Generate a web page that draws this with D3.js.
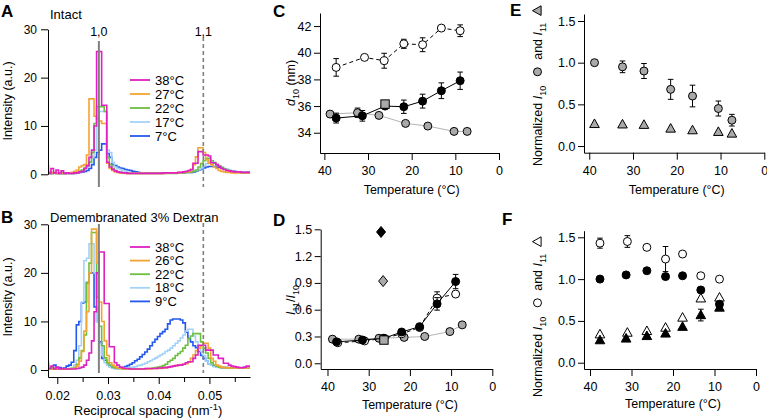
<!DOCTYPE html>
<html><head><meta charset="utf-8">
<script src="https://cdn.jsdelivr.net/npm/d3@7/dist/d3.min.js"></script>
<style>html,body{margin:0;padding:0;background:#fff;}svg{display:block;}</style>
</head><body>
<svg id="fig" width="767" height="420"></svg>
<script>
// ---------------- DATA ----------------
// Reciprocal spacing grid (nm^-1)
const qGrid = [0.018,0.0185,0.019,0.0195,0.02,0.0205,0.021,0.0215,0.022,0.0225,0.023,0.0235,0.024,0.0245,0.025,0.0255,0.026,0.0265,0.027,0.0275,0.028,0.0285,0.029,0.0295,0.03,0.0305,0.031,0.0315,0.032,0.0325,0.033,0.0335,0.034,0.0345,0.035,0.0355,0.036,0.0365,0.037,0.0375,0.038,0.0385,0.039,0.0395,0.04,0.0405,0.041,0.0415,0.042,0.0425,0.043,0.0435,0.044,0.0445,0.045,0.0455,0.046,0.0465,0.047,0.0475,0.048,0.0485,0.049,0.0495,0.05,0.0505,0.051,0.0515,0.052,0.0525,0.053,0.0535,0.054,0.0545,0.055,0.0555,0.056,0.0565,0.057,0.0575,0.058];
const reflections = [0.0282, 0.0488]; // 1,0 and 1,1
const reflectionLabels = ["1,0", "1,1"];

// Panel A (Intact) intensities
const labelsA = ["38°C","27°C","22°C","17°C","7°C"];
const intactA38 = [1.8,0.2,1.2,0.3,0.9,0.2,0.7,0.2,0.3,0.2, 0.2,0.3,0.3,0.5,0.6,1.2,1.8,3.5,5.0,10.0, 25.4,25.4,14.3,14.3,2.5,1.5,1.0,0.7,0.5,0.4, 0.3,0.3,0.2,0.2,0.2,0.2,0.2,0.2,0.2,0.2, 0.2,0.2,0.2,0.2,0.2,0.2,0.3,0.3,0.3,0.3, 0.3,0.3,0.4,0.4,0.5,0.6,0.8,1.0,2.3,2.3, 4.7,4.7,4.0,4.0,3.8,2.4,2.4,2.0,1.6,1.2, 1.0,0.8,0.7,0.6,0.5,0.5,0.5,0.4,0.4,0.4, 0.4];
const intactA27 = [0.3,0.5,0.2,0.4,0.2,0.3,0.2,0.2,0.3,0.3, 0.4,0.6,0.9,1.5,1.8,2.0,4.0,15.6,15.6,12.0, 11.5,11.0,10.5,10.5,2.3,1.2,0.8,0.5,0.4,0.3, 0.3,0.2,0.2,0.2,0.2,0.2,0.2,0.2,0.2,0.2, 0.2,0.2,0.2,0.2,0.2,0.2,0.2,0.3,0.3,0.3, 0.3,0.3,0.3,0.4,0.4,0.5,0.6,1.0,2.0,3.6, 5.5,5.5,4.5,3.0,2.3,2.0,1.5,1.2,0.8,0.6, 0.5,0.4,0.4,0.3,0.3,0.3,0.3,0.3,0.3,0.3, 0.3];
const intactA22 = [0.2,0.3,0.2,0.3,0.2,0.2,0.2,0.2,0.2,0.2, 0.2,0.3,0.4,0.6,0.9,1.3,1.8,2.5,4.5,10.5, 14.0,14.0,14.0,13.0,3.5,2.0,1.2,0.8,0.5,0.4, 0.3,0.3,0.2,0.2,0.2,0.2,0.2,0.2,0.2,0.2, 0.2,0.2,0.2,0.2,0.2,0.2,0.2,0.2,0.2,0.2, 0.2,0.2,0.3,0.3,0.3,0.4,0.4,0.5,0.6,0.9, 1.5,2.2,2.8,3.3,3.3,2.8,2.3,2.0,1.7,1.4, 1.1,0.9,0.7,0.6,0.5,0.4,0.4,0.3,0.3,0.3, 0.3];
const intactA17 = [0.2,0.2,0.3,0.2,0.2,0.2,0.2,0.2,0.2,0.2, 0.2,0.3,0.4,0.6,0.8,1.0,1.5,2.5,3.5,5.0, 10.0,13.0,13.0,13.0,5.0,4.5,2.5,1.5,1.2,1.0, 0.8,0.6,0.4,0.3,0.3,0.3,0.2,0.2,0.2,0.2, 0.2,0.2,0.2,0.2,0.2,0.2,0.2,0.3,0.3,0.3, 0.3,0.3,0.3,0.3,0.4,0.4,0.5,0.6,0.7,0.8, 1.0,1.3,1.8,2.2,2.7,2.8,2.5,2.0,1.7,1.5, 1.2,1.0,0.8,0.7,0.6,0.5,0.5,0.4,0.4,0.3, 0.3];
const intactA7 = [0.3,0.4,0.2,0.3,0.2,0.2,0.2,0.2,0.2,0.2, 0.2,0.2,0.3,0.4,0.5,0.6,0.8,1.2,2.0,3.5, 4.5,5.0,6.3,6.3,4.3,3.5,2.0,1.8,1.5,1.3, 1.2,1.0,0.9,0.8,0.6,0.5,0.4,0.3,0.3,0.3, 0.3,0.3,0.3,0.3,0.3,0.3,0.3,0.3,0.3,0.3, 0.3,0.3,0.3,0.3,0.3,0.4,0.4,0.4,0.5,0.7, 0.9,1.1,1.3,1.5,1.6,1.6,1.6,1.5,1.4,1.3, 1.1,1.0,0.8,0.7,0.6,0.5,0.5,0.4,0.4,0.4, 0.4];

// Panel B (Demembranated 3% Dextran) intensities
const labelsB = ["38°C","26°C","22°C","18°C","9°C"];
const dexB38 = [1.2,0.3,0.8,0.2,0.6,0.2,0.3,0.2,0.2,0.2, 0.2,0.2,0.3,0.4,0.6,1.0,2.0,3.5,6.0,12.0, 20.0,24.3,24.3,13.7,13.7,4.8,4.8,1.5,1.0,0.6, 0.4,0.3,0.3,0.2,0.2,0.2,0.2,0.2,0.2,0.3, 0.3,0.3,0.3,0.3,0.4,0.4,0.5,0.5,0.6,0.7, 0.8,0.9,1.0,1.0,1.2,1.5,1.7,1.7,2.4,3.1, 5.1,5.1,5.1,4.1,4.1,4.1,3.1,3.1,2.4,2.4, 1.4,1.4,1.0,0.8,0.7,0.6,0.5,0.5,0.6,0.8, 0.8];
const dexB26 = [0.3,0.5,0.2,0.3,0.2,0.2,0.2,0.2,0.2,0.2, 0.3,0.4,0.8,1.8,3.8,8.0,12.0,20.0,29.0,29.0, 22.0,14.0,10.0,6.0,3.0,1.5,1.0,0.7,0.4,0.3, 0.3,0.2,0.2,0.2,0.2,0.2,0.2,0.2,0.2,0.2, 0.2,0.2,0.3,0.3,0.3,0.3,0.4,0.5,0.6,0.7, 0.8,0.9,1.0,1.1,1.2,1.3,1.6,2.4,3.1,4.0, 4.5,5.0,5.5,5.5,4.5,2.4,1.8,1.0,0.8,0.6, 0.5,0.5,0.4,0.4,0.4,0.4,0.4,0.4,0.4,0.4, 0.4];
const dexB22 = [0.3,0.2,0.4,0.2,0.3,0.2,0.2,0.2,0.2,0.2, 0.3,0.5,1.2,2.5,4.0,7.2,18.0,22.0,28.3,28.3, 15.0,9.0,5.0,2.5,1.5,1.0,0.6,0.4,0.3,0.3, 0.2,0.2,0.2,0.2,0.2,0.2,0.2,0.2,0.2,0.2, 0.3,0.3,0.4,0.5,0.6,0.7,0.9,1.2,1.7,2.0, 2.4,3.0,3.4,3.8,4.5,5.1,6.5,7.0,7.5,7.5, 7.5,5.8,4.5,3.5,2.4,1.5,1.0,0.8,0.6,0.5, 0.5,0.4,0.4,0.4,0.4,0.4,0.4,0.4,0.4,0.4, 0.4];
const dexB18 = [0.5,0.2,0.6,0.2,0.3,0.2,0.2,0.2,0.2,0.3, 0.5,1.0,2.0,5.0,14.0,22.5,23.0,26.0,26.0,20.0, 10.0,5.5,3.0,1.5,1.0,0.6,0.4,0.3,0.3,0.3, 0.3,0.4,0.4,0.5,0.6,0.7,0.9,1.0,1.2,1.4, 1.7,1.9,2.2,2.5,2.8,3.1,3.4,3.8,4.1,4.5, 5.0,5.5,6.0,6.6,7.2,8.0,8.4,8.4,7.0,5.8, 4.8,3.8,3.0,1.8,1.3,1.0,0.7,0.6,0.5,0.5, 0.5,0.4,0.4,0.4,0.4,0.4,0.4,0.4,0.4,0.4, 0.4];
const dexB9 = [1.5,0.3,0.5,1.0,0.2,0.5,0.3,0.4,0.8,1.0, 1.6,4.0,9.3,10.0,13.8,14.0,18.0,20.0,20.0,13.0, 10.0,5.8,2.4,2.0,1.2,0.8,0.5,0.3,0.3,0.4, 0.5,0.7,0.9,1.2,1.5,1.9,2.2,2.7,3.2,3.7, 4.3,5.0,5.7,6.3,6.9,7.5,7.9,8.4,9.5,10.3, 10.5,10.5,10.5,10.3,9.7,7.8,6.5,5.8,5.0,4.6, 3.8,3.0,2.4,1.8,1.3,1.0,0.8,0.7,0.6,0.5, 0.5,0.5,0.4,0.4,0.4,0.4,0.4,0.4,0.4,0.4, 0.4];

const spectraColors = ["#e020c0","#f2a534","#6cc040","#a4d2f7","#2358ee"];

// Panel C: d10 (nm)
const cTempOpen = [37.3,30.8,26.3,21.8,17.5,13.2,8.9];
const cOpen = [38.9,39.65,39.4,40.67,40.6,41.85,41.65];
const cOpenErr = [0.66,0.31,0.56,0.34,0.52,0.33,0.44];
const cTempFilled = [37.3,31.3,26.1,21.8,17.5,13.2,8.9];
const cFilled = [35.1,35.27,36.0,35.95,36.37,37.15,37.9];
const cFilledErr = [0.37,0.4,0.3,0.5,0.52,0.59,0.65];
const cTempGray = [38.7,32.4,27.5,21.4,16.3,10.3,7.3];
const cGray = [35.4,35.5,35.3,34.7,34.5,34.1,34.1];
const cGrayErr = [0.1,0.35,0.1,0.25,0.2,0.3,0.3];
const cSquareT = [26.1], cSquare = [36.15], cSquareErr = [0.3];

// Panel D: I11/I10
const dTempFilled = [37.8,31.5,26.3,22.0,17.65,13.4,8.9];
const dFilled = [0.24,0.26,0.28,0.35,0.41,0.665,0.915];
const dFilledErr = [0.02,0.02,0.02,0.03,0.03,0.07,0.08];
const dTempOpen = [37.5,31.0,26.3,22.0,17.65,13.4,8.9];
const dOpen = [0.23,0.25,0.28,0.33,0.40,0.73,0.775];
const dOpenErr = [0.02,0.02,0.02,0.02,0.03,0.07,0.03];
const dTempGray = [38.8,32.4,27.5,21.4,16.4,10.3,7.3];
const dGray = [0.27,0.27,0.28,0.29,0.30,0.355,0.43];
const dGrayErr = [0.01,0.02,0.01,0.02,0.02,0.02,0.04];
const dSquareT = [26.3], dSquare = [0.26];
const dDiamondBlackT = [27.0], dDiamondBlack = [1.47];
const dDiamondGrayT = [26.5], dDiamondGray = [0.92];

// Panel E: normalized intensities (gray)
const eTemp = [38.8,32.4,27.5,21.4,16.4,10.5,7.4];
const eI10 = [1.0,0.95,0.9,0.68,0.60,0.45,0.31];
const eI10Err = [0.02,0.07,0.09,0.12,0.13,0.09,0.07];
const eI11 = [0.265,0.26,0.255,0.21,0.19,0.17,0.15];
const eI11Err = [0.01,0.01,0.01,0.02,0.04,0.03,0.03];

// Panel F: normalized intensities (open / filled)
const fTempOpen = [37.6,31.0,26.3,21.8,17.7,13.3,8.8];
const fTempFilled = [37.6,31.3,26.3,21.8,17.7,13.3,8.8];
const fI10Open = [1.43,1.45,1.38,1.24,1.30,1.04,1.00];
const fI10OpenErr = [0.06,0.07,0.02,0.15,0.05,0.02,0.02];
const fI10Filled = [1.0,1.05,1.10,1.03,1.04,0.87,0.70];
const fI10FilledErr = [0.02,0.02,0.02,0.05,0.02,0.05,0.04];
const fI11Open = [0.34,0.36,0.38,0.42,0.54,0.77,0.78];
const fI11OpenErr = [0.03,0.05,0.03,0.03,0.03,0.04,0.03];
const fI11Filled = [0.27,0.29,0.32,0.35,0.43,0.57,0.66];
const fI11FilledErr = [0.02,0.02,0.02,0.03,0.03,0.07,0.04];

const tempTicks = [40,30,20,10,0];

// ---------------- DRAWING ----------------
const svg = d3.select('#fig');
const FF = '"Liberation Sans", Arial, Helvetica, sans-serif';
const GRAY = "#a9a9a9";

function styleAxis(g, fs) {
  g.attr('font-family', FF).attr('font-size', fs || 12);
  g.selectAll('path.domain').attr('stroke', '#000').attr('stroke-width', 1);
  g.selectAll('.tick line').attr('stroke', '#000');
  g.selectAll('.tick text').attr('fill', '#000');
}
function txt(x, y, s, size, opts) {
  const t = svg.append('text').attr('x', x).attr('y', y).attr('font-family', FF)
    .attr('font-size', size).attr('fill', '#000').text(s);
  if (opts && opts.anchor) t.attr('text-anchor', opts.anchor);
  if (opts && opts.bold) t.attr('font-weight', 'bold');
  return t;
}
function richText(parent, parts, size) {
  const t = parent.append('text').attr('font-family', FF).attr('font-size', size).attr('fill', '#000');
  let shift = 0;
  parts.forEach(p => {
    const ts = t.append('tspan').text(p.t);
    let target = p.sub ? 3.5 : (p.sup ? -5 : 0);
    if (target !== shift) { ts.attr('dy', target - shift); shift = target; }
    if (p.sub || p.sup) ts.attr('font-size', size * 0.72);
    if (p.i) ts.attr('font-style', 'italic');
  });
  return t;
}

// ---- Spectra panels A & B ----
const xQ = d3.scaleLinear().domain([0.01817, 0.0580]).range([48, 250]);
svg.append('defs').append('clipPath').attr('id', 'clipQ')
  .append('rect').attr('x', 48).attr('y', 0).attr('width', 204).attr('height', 420);

function spectra(cfg) {
  const y = cfg.y;
  const line = d3.line().x((d, i) => xQ(qGrid[i])).y(d => y(d)).curve(d3.curveStep);
  const cg = svg.append('g').attr('clip-path', 'url(#clipQ)');
  for (let k = cfg.series.length - 1; k >= 0; k--) {
    cg.append('path').attr('d', line(cfg.series[k])).attr('fill', 'none')
      .attr('stroke', spectraColors[k]).attr('stroke-width', 1.6).attr('stroke-linejoin', 'miter');
  }
  // reflection lines
  svg.append('line').attr('x1', xQ(reflections[0])).attr('x2', xQ(reflections[0]))
    .attr('y1', cfg.solidTop).attr('y2', cfg.lineBottom).attr('stroke', '#808080').attr('stroke-width', 2);
  svg.append('line').attr('x1', xQ(reflections[1])).attr('x2', xQ(reflections[1]))
    .attr('y1', cfg.dashTop).attr('y2', cfg.lineBottom).attr('stroke', '#808080').attr('stroke-width', 1.6)
    .attr('stroke-dasharray', '4,3');
  const ya = svg.append('g').attr('transform', 'translate(48,0)')
    .call(d3.axisLeft(y).tickValues([0, 10, 20, 30]).tickSizeInner(7).tickSizeOuter(0).tickPadding(4));
  styleAxis(ya, 12);
  // legend
  cfg.labels.forEach((lab, i) => {
    const yy = cfg.legY + i * cfg.legStep;
    svg.append('line').attr('x1', 130).attr('x2', 150).attr('y1', yy).attr('y2', yy)
      .attr('stroke', spectraColors[i]).attr('stroke-width', 1.8);
    txt(155, yy + 4.5, lab, 13);
  });
  // y label
  const yl = svg.append('g').attr('transform', `translate(12,${cfg.ylabY}) rotate(-90)`);
  yl.append('text').attr('text-anchor', 'middle').attr('font-family', FF).attr('font-size', 12.5)
    .attr('fill', '#000').text('Intensity (a.u.)');
}

const yA = d3.scaleLinear().domain([0, 30]).range([174.3, 29.3]);
spectra({ y: yA, series: [intactA38, intactA27, intactA22, intactA17, intactA7], labels: labelsA,
  legY: 80, legStep: 14, solidTop: 41, dashTop: 37, lineBottom: 187, ylabY: 101 });
txt(xQ(reflections[0]), 36, reflectionLabels[0], 12.5, { anchor: 'middle' });
txt(xQ(reflections[1]), 36, reflectionLabels[1], 12.5, { anchor: 'middle' });
txt(50, 19, 'Intact', 13);
txt(1, 17, 'A', 17, { bold: true });

const yB = d3.scaleLinear().domain([-1.44, 30]).range([377, 224.3]);
spectra({ y: yB, series: [dexB38, dexB26, dexB22, dexB18, dexB9], labels: labelsB,
  legY: 247, legStep: 13.6, solidTop: 224, dashTop: 223, lineBottom: 373, ylabY: 297 });
txt(50, 221.5, 'Demembranated 3% Dextran', 13);
txt(1, 223, 'B', 17, { bold: true });
const xaB = svg.append('g').attr('transform', 'translate(0,377)')
  .call(d3.axisBottom(xQ).tickValues([0.02, 0.03, 0.04, 0.05]).tickFormat(d3.format('.2f'))
    .tickSizeInner(7).tickSizeOuter(0).tickPadding(7));
styleAxis(xaB, 12.5);
const xaBm = svg.append('g').attr('transform', 'translate(0,377)')
  .call(d3.axisBottom(xQ).tickValues([0.025, 0.035, 0.045, 0.055]).tickFormat('').tickSizeInner(5).tickSizeOuter(0));
xaBm.select('path.domain').remove();
xaBm.selectAll('.tick line').attr('stroke', '#000');
{
  const g = svg.append('g').attr('transform', 'translate(148,415)');
  richText(g, [{ t: 'Reciprocal spacing (nm' }, { t: '-1', sup: true }, { t: ')' }], 13).attr('text-anchor', 'middle');
}

// ---- Temperature panels ----
function tempPanel(c) {
  const x = d3.scaleLinear().domain(c.xd).range(c.xr);
  const y = d3.scaleLinear().domain(c.yd).range(c.yr);
  const g = svg.append('g');
  const xa = g.append('g').attr('transform', `translate(0,${c.yr[0]})`)
    .call(d3.axisBottom(x).tickValues(tempTicks).tickSizeInner(7).tickSizeOuter(0).tickPadding(6));
  styleAxis(xa, 12.5);
  const ya = g.append('g').attr('transform', `translate(${c.xr[0]},0)`)
    .call(d3.axisLeft(y).tickValues(c.yt).tickFormat(c.yf).tickSizeInner(6).tickSizeOuter(0).tickPadding(2.5));
  styleAxis(ya, 12.5);
  txt((x(40) + x(0)) / 2, c.titleY, 'Temperature (°C)', 12.5, { anchor: 'middle' });
  return { g, x, y };
}
function marker(g, type, cx, cy, fill) {
  let el;
  if (type === 'circle') el = g.append('circle').attr('cx', cx).attr('cy', cy).attr('r', 4);
  else if (type === 'square') el = g.append('rect').attr('x', cx - 4.2).attr('y', cy - 4.2).attr('width', 8.4).attr('height', 8.4);
  else if (type === 'diamond') el = g.append('path').attr('d', `M${cx},${cy - 5.5}L${cx + 4.5},${cy}L${cx},${cy + 5.5}L${cx - 4.5},${cy}Z`);
  else if (type === 'triangle') el = g.append('path').attr('d', `M${cx},${cy - 5}L${cx + 4.8},${cy + 3.6}L${cx - 4.8},${cy + 3.6}Z`);
  el.attr('fill', fill).attr('stroke', '#000').attr('stroke-width', 1);
  return el;
}
function plotSeries(p, T, V, E, o) {
  const g = p.g.append('g');
  if (o.line) {
    g.append('path').attr('d', d3.line().x((d, i) => p.x(T[i])).y(d => p.y(d))(V))
      .attr('fill', 'none').attr('stroke', o.line).attr('stroke-width', 1)
      .attr('stroke-dasharray', o.dash || null);
  }
  if (E) {
    V.forEach((v, i) => {
      const cx = p.x(T[i]);
      if (E[i] * Math.abs(p.y(0) - p.y(1)) < 4.5) return;
      g.append('line').attr('x1', cx).attr('x2', cx).attr('y1', p.y(v - E[i])).attr('y2', p.y(v + E[i])).attr('stroke', '#000');
      [v - E[i], v + E[i]].forEach(e => g.append('line').attr('x1', cx - 2.8).attr('x2', cx + 2.8)
        .attr('y1', p.y(e)).attr('y2', p.y(e)).attr('stroke', '#000'));
    });
  }
  V.forEach((v, i) => marker(g, o.type, p.x(T[i]), p.y(v), o.fill));
}

// Panel C
const pC = tempPanel({ xd: [41, 0], xr: [320, 499], yd: [32.48, 42.98], yr: [153, 13],
  yt: [34, 36, 38, 40, 42], yf: d3.format('d'), titleY: 194 });
plotSeries(pC, cTempGray, cGray, cGrayErr, { type: 'circle', fill: GRAY, line: '#b5b5b5' });
plotSeries(pC, cTempOpen, cOpen, cOpenErr, { type: 'circle', fill: '#fff', line: '#000', dash: '4,3' });
plotSeries(pC, cTempFilled, cFilled, cFilledErr, { type: 'circle', fill: '#000', line: '#000' });
plotSeries(pC, cSquareT, cSquare, cSquareErr, { type: 'square', fill: GRAY });
{
  const g = svg.append('g').attr('transform', 'translate(295,83) rotate(-90)');
  richText(g, [{ t: 'd', i: true }, { t: '10', sub: true }, { t: ' (nm)' }], 12.5).attr('text-anchor', 'middle');
}
txt(273, 17, 'C', 17, { bold: true });

// Panel D
const pD = tempPanel({ xd: [41.65, 0], xr: [320.7, 492.3], yd: [-0.064, 1.5], yr: [369, 229.3],
  yt: [0, 0.3, 0.6, 0.9, 1.2, 1.5], yf: d3.format('.1f'), titleY: 409 });
plotSeries(pD, dTempGray, dGray, dGrayErr, { type: 'circle', fill: GRAY, line: '#b5b5b5' });
plotSeries(pD, dTempOpen, dOpen, dOpenErr, { type: 'circle', fill: '#fff', line: '#000', dash: '4,3' });
plotSeries(pD, dTempFilled, dFilled, dFilledErr, { type: 'circle', fill: '#000', line: '#000' });
plotSeries(pD, dSquareT, dSquare, null, { type: 'square', fill: GRAY });
plotSeries(pD, dDiamondBlackT, dDiamondBlack, null, { type: 'diamond', fill: '#000' });
plotSeries(pD, dDiamondGrayT, dDiamondGray, null, { type: 'diamond', fill: GRAY });
{
  const g = svg.append('g').attr('transform', 'translate(295,300) rotate(-90)');
  richText(g, [{ t: 'I', i: true }, { t: '11', sub: true }, { t: '/' }, { t: 'I', i: true }, { t: '10', sub: true }], 12.5)
    .attr('text-anchor', 'middle');
}
txt(273, 226, 'D', 17, { bold: true });

// Normalized label helper
function normLabel(x0, y0, circFill, triFill) {
  const g = svg.append('g').attr('transform', `translate(${x0},${y0}) rotate(-90)`);
  const t1 = richText(g, [{ t: 'Normalized ' }, { t: 'I', i: true }, { t: '10', sub: true }], 12.5);
  const w1 = t1.node().getComputedTextLength();
  g.append('circle').attr('cx', w1 + 14).attr('cy', -4.5).attr('r', 4).attr('fill', circFill).attr('stroke', '#000');
  const t2 = richText(g, [{ t: 'and ' }, { t: 'I', i: true }, { t: '11', sub: true }], 12.5).attr('x', w1 + 26);
  const w2 = t2.node().getComputedTextLength();
  const cx = w1 + 26 + w2 + 12, cy = -4.5;
  g.append('path').attr('d', `M${cx},${cy - 5}L${cx + 4.8},${cy + 3.6}L${cx - 4.8},${cy + 3.6}Z`)
    .attr('fill', triFill).attr('stroke', '#000');
}

// Panel E
const pE = tempPanel({ xd: [41.2, 0], xr: [584, 764.3], yd: [-0.08, 1.584], yr: [152.7, 14],
  yt: [0, 0.5, 1.0, 1.5], yf: d3.format('.1f'), titleY: 194 });
plotSeries(pE, eTemp, eI11, eI11Err, { type: 'triangle', fill: GRAY });
plotSeries(pE, eTemp, eI10, eI10Err, { type: 'circle', fill: GRAY });
normLabel(542, 166, GRAY, GRAY);
txt(510, 16, 'E', 17, { bold: true });

// Panel F
const pF = tempPanel({ xd: [41.45, 0], xr: [584, 756], yd: [-0.075, 1.579], yr: [369, 230.7],
  yt: [0, 0.5, 1.0, 1.5], yf: d3.format('.1f'), titleY: 408 });
plotSeries(pF, fTempOpen, fI11Open, fI11OpenErr, { type: 'triangle', fill: '#fff' });
plotSeries(pF, fTempFilled, fI11Filled, fI11FilledErr, { type: 'triangle', fill: '#000' });
plotSeries(pF, fTempFilled, fI10Filled, fI10FilledErr, { type: 'circle', fill: '#000' });
plotSeries(pF, fTempOpen, fI10Open, fI10OpenErr, { type: 'circle', fill: '#fff' });
normLabel(542, 397, '#fff', '#fff');
txt(502, 225, 'F', 17, { bold: true });
</script></body></html>
